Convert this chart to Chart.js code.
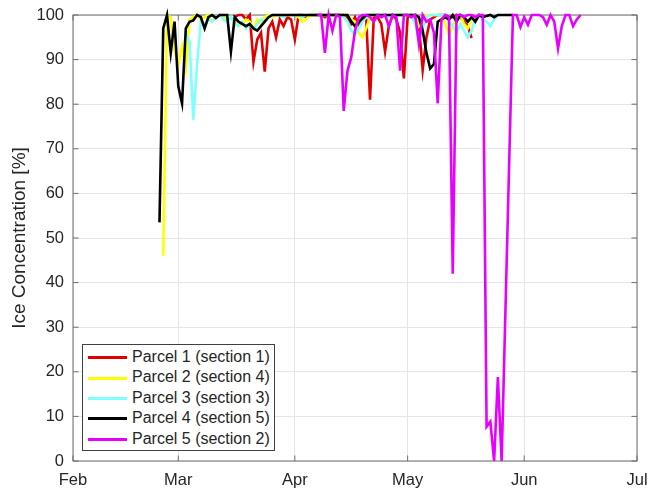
<!DOCTYPE html>
<html>
<head>
<meta charset="utf-8">
<script src="https://cdn.jsdelivr.net/npm/chart.js@4.4.0/dist/chart.umd.min.js"></script>
<style>
  body { margin: 0; background: #fff; }
  #wrap { position: relative; width: 649px; height: 491px; }
  #legend {
    position: absolute; left: 82px; top: 344px; width: 191px; height: 103px;
    padding-top: 2px; border: 1px solid #404040; background: #fff;
    font-family: "Liberation Sans", Arial, sans-serif; font-size: 16px; color: #262626;
  }
  .row { height: 20.4px; line-height: 20.4px; white-space: nowrap; }
  .swatch { display: inline-block; width: 39px; height: 0; border-top: 3px solid; vertical-align: middle; margin: 0 5px 0 5px; }
</style>
</head>
<body>
<div id="wrap">
  <canvas id="iceChart" width="649" height="491"></canvas>
  <div id="legend"></div>
</div>
<script>
// x axis is days since 1 Feb
const monthLabels = ['Feb', 'Mar', 'Apr', 'May', 'Jun', 'Jul'];
const monthStarts = [0, 28, 59, 89, 120, 150];

const seriesNames = ['Parcel 1 (section 1)', 'Parcel 2 (section 4)', 'Parcel 3 (section 3)', 'Parcel 4 (section 5)', 'Parcel 5 (section 2)'];
const seriesColors = ['#e00000', '#ffff00', '#80ffff', '#000000', '#e600ff'];

// Parcel 1, from day 43
const parcel1Start = 43;
const parcel1 = [99.5, 100, 100, 99, 100, 89.5, 94.5, 96, 87.3, 97,
  98.5, 95, 99, 97.5, 99.5, 99, 94.5, 100, 100, 99.5,
  100, 100, 100, 100, 99.5, 100, 100, 100, 100, 100,
  99.5, 98, 99.5, 97.5, 99.5, 99, 81, 99.5, 99.5, 98,
  91.8, 97.5, 100, 99, 96, 85.8, 99.5, 100, 99.5, 97.5,
  87.7, 95, 99, 99.5, 100, 100, 100, 99.5, 99.5, 100,
  99.5, 98.5, 97.5, 94.8];

// Parcel 2, from day 24
const parcel2Start = 24;
const parcel2 = [46, 100, 99.5, 92, 89, 93, 88, 99, 99.5, 100,
  99, 99.5, 100, 98.5, 99.5, 100, 99.5, 99, 99.5, 98.5,
  97.5, 98, 99, 98.5, 97, 99, 98, 99.5, 100, 99.5,
  100, 100, 99.5, 100, 100, 100, 99.5, 98.5, 99, 100,
  100, 100, 100, 100, 100, 100, 100, 100, 100, 100,
  99, 98.5, 96, 95, 97, 99.5, 100, 100, 100, 100,
  98.5, 100, 100, 100, 100, 100, 100, 100, 97.5, 99,
  100, 100, 100, 100, 100, 98, 95.5, 97.5, 99.5, 100,
  98, 97, 99];

// Parcel 3, from day 30
const parcel3Start = 30;
const parcel3 = [96, 94, 76.5, 89, 98.5, 98, 99, 98.5, 99.5, 100,
  99, 98.5, 99.5, 98, 97.5, 98.5, 97, 98, 96.8,
  98, 99, 98.5, 99.5, 100, 100, 100, 99.5, 100, 100,
  100, 100, 99.5, 100, 100, 100, 100, 100, 100, 100,
  100, 100, 100, 99.5, 98.5, 96.5, 95.5, 97, 98.5, 99.5,
  100, 100, 100, 100, 100, 99.5, 100, 100, 100, 100,
  100, 100, 98, 94.5, 97, 99.5, 100, 100, 100, 100,
  100, 98.5, 97.5, 96, 98, 96.5, 95, 96.5, 99, 100,
  99, 98.5, 97.5, 99, 100];

// Parcel 4, from day 23
const parcel4Start = 23;
const parcel4 = [53.5, 97, 100, 91.5, 98.5, 84, 80.2, 97, 98.5, 98.8,
  100, 99.5, 97, 99.5, 100, 99.3, 100, 100, 100, 91.8,
  99.5, 98.5, 98, 97.5, 98, 97, 96.5, 97.5, 98.5, 99.5,
  100, 100, 100, 100, 100, 100, 100, 100, 100, 100,
  100, 100, 100, 100, 100, 100, 100, 100, 100, 100, 100,
  98.5, 97.5, 98.5, 99.2,
  100, 100, 100, 100, 100, 100, 100, 100, 100, 100, 100, 100, 100, 100,
  99.5, 96.5, 91.5, 88, 89, 98.5, 99, 99.5, 99, 100,
  98.5, 100, 99.5, 98.5, 99.5, 98.5, 100, 99.5, 99.8, 100,
  99.5, 100, 100, 100, 100, 100];

// Parcel 5, from day 65 (null = no data)
const parcel5Start = 65;
const parcel5 = [100, 100, 91.5, 100, 96.5, 100, 99.5, 78.5, 87.5, 90.5,
  96.5, 99.5, 100, 100, 99.5, 98.5, 100, 99.5, 100, 97.5,
  100, 99.5, 87.5, 100, 100, 99.5, 100, 93.5, 100, 98.5,
  99, 96, 80.2, 99, 100, 99.5, 42, 100, 100, 99.5,
  100, 100, 99.5, 100, 100, 7.7, 8.8, 0, 18.8, 0,
  null, null, 100, 100, 97.3, 99.5, 97.8, 100, 100, 100,
  99.5, 97.8, 100, 98.5, 92.5, 97.5, 100, 100, 97.5, 99,
  100];

const starts = [parcel1Start, parcel2Start, parcel3Start, parcel4Start, parcel5Start];
const series = [parcel1, parcel2, parcel3, parcel4, parcel5];

function toPoints(start, values) {
  return values.map((v, i) => ({ x: start + i, y: v }));
}

Chart.defaults.font.family = '"Liberation Sans", Arial, sans-serif';
Chart.defaults.color = '#262626';

// box round the plot with inward tick marks
const axesBox = {
  id: 'axesBox',
  beforeDatasetsDraw(chart) {
    const ctx = chart.ctx;
    const a = chart.chartArea;
    const xs = chart.scales.x, ys = chart.scales.y;
    ctx.save();
    ctx.strokeStyle = '#6e6e6e';
    ctx.lineWidth = 1;
    ctx.strokeRect(a.left, a.top, a.right - a.left, a.bottom - a.top);
    ctx.beginPath();
    ys.ticks.forEach(t => {
      const p = ys.getPixelForValue(t.value);
      ctx.moveTo(a.left, p); ctx.lineTo(a.left + 5.5, p);
      ctx.moveTo(a.right, p); ctx.lineTo(a.right - 5.5, p);
    });
    xs.ticks.forEach(t => {
      const p = xs.getPixelForValue(t.value);
      ctx.moveTo(p, a.bottom); ctx.lineTo(p, a.bottom - 5.5);
      ctx.moveTo(p, a.top); ctx.lineTo(p, a.top + 5.5);
    });
    ctx.stroke();
    ctx.restore();
  }
};

const datasets = series.map((vals, i) => ({
  label: seriesNames[i],
  data: toPoints(starts[i], vals),
  borderColor: seriesColors[i],
  backgroundColor: seriesColors[i],
  borderWidth: 2.6,
  pointRadius: 0,
  tension: 0,
  spanGaps: true,
  clip: false,
  order: 5 - i
}));

new Chart(document.getElementById('iceChart'), {
  type: 'line',
  data: { datasets: datasets },
  options: {
    responsive: false,
    animation: false,
    layout: { padding: { left: 0, right: 12, top: 15, bottom: 0 } },
    plugins: { legend: { display: false }, tooltip: { enabled: false } },
    scales: {
      x: {
        type: 'linear',
        min: 0,
        max: 150,
        afterBuildTicks: s => { s.ticks = monthStarts.map(v => ({ value: v })); },
        afterFit: s => { s.height = 30; s.paddingLeft = 0; s.paddingRight = 0; },
        grid: { color: '#e6e6e6', drawTicks: false },
        border: { display: false },
        ticks: {
          padding: 10,
          maxRotation: 0,
          autoSkip: false,
          font: { size: 16.5 },
          callback: v => monthLabels[monthStarts.indexOf(v)]
        }
      },
      y: {
        min: 0,
        max: 100,
        afterFit: s => { s.width = 73; s.paddingTop = 0; s.paddingBottom = 0; },
        grid: { color: '#e6e6e6', drawTicks: false },
        border: { display: false },
        ticks: { stepSize: 10, padding: 9, font: { size: 16.5 } },
        title: { display: true, text: 'Ice Concentration [%]', font: { size: 19 }, padding: { top: 8, bottom: 0 } }
      }
    }
  },
  plugins: [axesBox]
});

// legend inside the axes, bottom left
const legend = document.getElementById('legend');
seriesNames.forEach((name, i) => {
  const row = document.createElement('div');
  row.className = 'row';
  row.innerHTML = '<span class="swatch" style="border-color:' + seriesColors[i] + '"></span>' + name;
  legend.appendChild(row);
});
</script>
</body>
</html>
